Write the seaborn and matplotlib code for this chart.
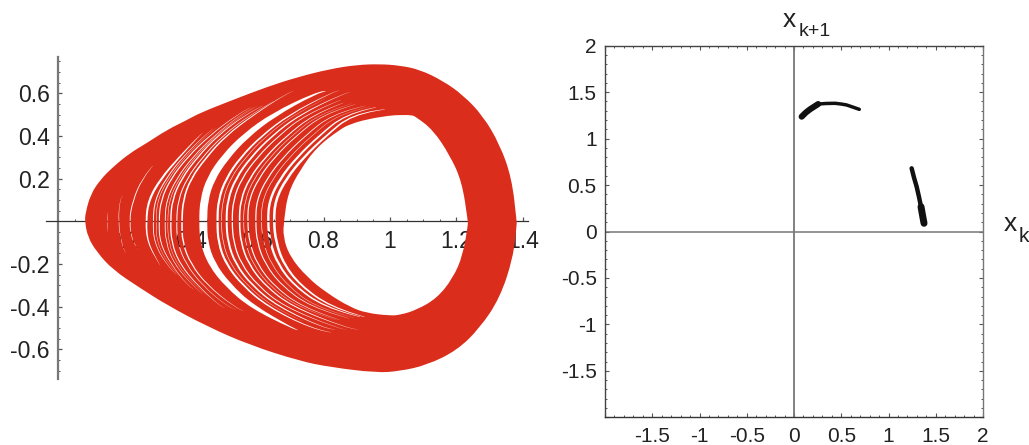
import numpy as np
import matplotlib
matplotlib.use('Agg')
import matplotlib.pyplot as plt
from matplotlib.patches import PathPatch
from matplotlib.path import Path
from matplotlib.ticker import MultipleLocator, FixedLocator, FuncFormatter
import seaborn as sns

# left panel: outline of the attractor band
OUTER_X = [0.081, 0.083, 0.098, 0.127, 0.166, 0.217, 0.268, 0.328, 0.389, 0.428, 0.527, 0.63, 0.72, 0.82,
           0.9, 0.97, 1.03, 1.09, 1.16, 1.22, 1.28, 1.331, 1.367, 1.382, 1.382, 1.371, 1.331, 1.271, 1.202,
           1.111, 1.03, 0.96, 0.819, 0.729, 0.578, 0.45, 0.328, 0.247, 0.166, 0.117, 0.09]
OUTER_Y = [0.0, 0.039, 0.125, 0.194, 0.255, 0.32, 0.367, 0.428, 0.475, 0.508, 0.569, 0.63, 0.675, 0.714,
           0.733, 0.737, 0.73, 0.711, 0.658, 0.592, 0.495, 0.36, 0.203, 0.0, -0.017, -0.172, -0.36, -0.50,
           -0.605, -0.674, -0.702, -0.71, -0.683, -0.655, -0.58, -0.493, -0.392, -0.312, -0.228, -0.144,
           -0.074]
HOLE_X = [0.681, 0.693, 0.729, 0.78, 0.849, 0.88, 0.93, 1.0, 1.03, 1.065, 1.078, 1.13, 1.18, 1.217, 1.235,
          1.235, 1.22, 1.19, 1.142, 1.081, 1.03, 1.0, 0.93, 0.88, 0.81, 0.75, 0.699, 0.678]
HOLE_Y = [0.006, 0.133, 0.24, 0.348, 0.43, 0.455, 0.478, 0.496, 0.498, 0.498, 0.49, 0.428, 0.311, 0.186, 0.0,
          -0.017, -0.158, -0.266, -0.36, -0.415, -0.439, -0.442, -0.43, -0.402, -0.336, -0.261, -0.166, -0.073]

# white gaps in the band: x at each y level, plus where each gap starts and stops
GAP_LEVELS = [0.6, 0.5, 0.4, 0.3, 0.2, 0.1, 0.0, -0.1, -0.2, -0.3, -0.4, -0.5]
n = np.nan
GAP_ROWS = [
    [n, n, n, n, n, n, 0.148, n, n, n, n, n],
    [n, n, n, n, n, 0.186, 0.182, 0.19, n, n, n, n],
    [n, n, n, n, 0.254, 0.226, 0.214, 0.225, n, n, n, n],
    [n, n, 0.425, 0.365, 0.31, 0.273, 0.265, 0.27, 0.305, n, n, n],
    [n, n, 0.44, 0.375, 0.325, 0.292, 0.286, 0.29, 0.325, n, n, n],
    [n, n, 0.447, 0.382, 0.332, 0.30, 0.295, 0.298, 0.332, n, n, n],
    [n, 0.54, 0.455, 0.39, 0.34, 0.31, 0.304, 0.307, 0.34, 0.39, n, n],
    [n, 0.55, 0.47, 0.405, 0.357, 0.327, 0.322, 0.325, 0.35, 0.405, n, n],
    [n, 0.558, 0.475, 0.412, 0.365, 0.335, 0.33, 0.333, 0.358, 0.412, n, n],
    [n, 0.565, 0.48, 0.42, 0.372, 0.344, 0.339, 0.342, 0.367, 0.42, 0.49, n],
    [n, 0.58, 0.495, 0.435, 0.388, 0.362, 0.357, 0.36, 0.385, 0.435, 0.51, n],
    [0.69, 0.59, 0.505, 0.447, 0.40, 0.377, 0.373, 0.375, 0.40, 0.45, 0.53, n],
    [0.775, 0.65, 0.564, 0.503, 0.46, 0.44, 0.437, 0.44, 0.463, 0.512, 0.585, 0.705],
    [0.82, 0.697, 0.613, 0.55, 0.506, 0.483, 0.48, 0.483, 0.506, 0.556, 0.632, 0.76],
    [n, 0.711, 0.627, 0.565, 0.519, 0.496, 0.492, 0.496, 0.519, 0.569, 0.646, n],
    [0.862, 0.728, 0.644, 0.581, 0.535, 0.511, 0.507, 0.512, 0.535, 0.584, 0.663, 0.80],
    [n, 0.746, 0.664, 0.60, 0.553, 0.528, 0.524, 0.529, 0.552, 0.601, 0.681, 0.84],
    [n, 0.77, 0.688, 0.624, 0.576, 0.55, 0.546, 0.551, 0.574, 0.623, 0.705, 0.87],
    [n, 0.784, 0.703, 0.638, 0.59, 0.563, 0.558, 0.564, 0.587, 0.636, 0.719, n],
    [n, 0.798, 0.717, 0.652, 0.604, 0.575, 0.571, 0.577, 0.60, 0.649, 0.733, n],
    [n, 0.824, 0.744, 0.678, 0.629, 0.599, 0.595, 0.60, 0.624, 0.673, 0.759, n],
    [n, 0.843, 0.763, 0.697, 0.647, 0.616, 0.612, 0.618, 0.642, 0.691, 0.773, n],
    [n, 0.865, 0.786, 0.72, 0.669, 0.637, 0.632, 0.639, 0.662, 0.711, 0.80, n],
    [n, 0.885, 0.807, 0.74, 0.688, 0.655, 0.65, 0.657, 0.68, 0.73, 0.82, n],
]
GAP_TOP = [(0.152, 0.06), (0.20, 0.13), (0.30, 0.287), (0.44, 0.42), (0.48, 0.45), (0.49, 0.455), (0.60, 0.55),
           (0.61, 0.55), (0.62, 0.56), (0.64, 0.56), (0.68, 0.59), (0.72, 0.615), (0.82, 0.615), (0.86, 0.62),
           (0.85, 0.61), (0.889, 0.606), (0.90, 0.60), (0.90, 0.58), (0.93, 0.575), (0.94, 0.57), (0.97, 0.56),
           (0.985, 0.555), (1.0, 0.55), (1.03, 0.536)]
GAP_BOTTOM = [(0.15, -0.07), (0.21, -0.17), (0.25, -0.14), (0.31, -0.21), (0.37, -0.27), (0.38, -0.28),
              (0.42, -0.33), (0.45, -0.36), (0.47, -0.37), (0.51, -0.41), (0.55, -0.42), (0.572, -0.43),
              (0.73, -0.514), (0.85, -0.53), (0.78, -0.5), (0.85, -0.51), (0.88, -0.51), (0.92, -0.51),
              (0.89, -0.49), (0.90, -0.49), (0.93, -0.48), (0.945, -0.475), (0.96, -0.47), (0.97, -0.47)]
GAP_WIDTHS = [0.5, 0.6, 1.0, 2.2, 1.0, 0.5, 1.2, 0.9, 0.5, 1.4, 1.0, 1.6, 8.0, 2.2, 0.6, 2.0, 1.3, 1.6, 0.6,
              1.2, 1.2, 0.6, 2.4, 2.6]

LEFT_XTICKS = [0.2, 0.4, 0.6, 0.8, 1, 1.2, 1.4]
LEFT_YTICKS = [-0.6, -0.4, -0.2, 0.2, 0.4, 0.6]

# right panel: the two strands of the return map
ARC_X = [0.081, 0.125, 0.169, 0.256, 0.34, 0.434, 0.5, 0.557, 0.62, 0.691]
ARC_Y = [1.236, 1.28, 1.315, 1.372, 1.378, 1.38, 1.372, 1.362, 1.34, 1.315]
DROP_X = [1.245, 1.27, 1.298, 1.322, 1.344, 1.36, 1.376]
DROP_Y = [0.68, 0.58, 0.482, 0.375, 0.267, 0.175, 0.088]
RIGHT_TICKS = [-1.5, -1, -0.5, 0, 0.5, 1, 1.5, 2]

RED = '#DB2D1B'
INK = '#222222'
GREY = '#777777'
W, H = 1029, 445

# pixels per data unit on the left panel
SX, SY = 332.0, 213.3


def fmt(v, pos=None):
    return '%g' % v


def smooth_closed(pts):
    pts = np.asarray(pts)
    mids = (pts + np.roll(pts, -1, axis=0)) / 2
    verts = [mids[-1]]
    codes = [Path.MOVETO]
    for p, m in zip(pts, mids):
        verts += [p, m]
        codes += [Path.CURVE3, Path.CURVE3]
    return np.array(verts), codes


def orient(pts, ccw=True):
    pts = np.asarray(pts)
    area = np.sum(pts[:, 0] * np.roll(pts[:, 1], -1) - np.roll(pts[:, 0], -1) * pts[:, 1])
    return pts if (area > 0) == ccw else pts[::-1]


def ribbon(centre, width):
    # thin closed outline around a centre line, width in pixels, pinched at both ends
    px = np.asarray(centre) * [SX, SY]
    d = np.gradient(px, axis=0)
    d /= np.linalg.norm(d, axis=1, keepdims=True)
    normal = np.column_stack([-d[:, 1], d[:, 0]])
    s = np.r_[0, np.cumsum(np.linalg.norm(np.diff(px, axis=0), axis=1))]
    end_dist = np.minimum(s, s[-1] - s)
    taper = np.clip(end_dist / (0.4 * s[-1]), 0, 1) ** 0.7
    off = normal * (width * taper / 2)[:, None]
    outline = np.vstack([px + off, (px - off)[::-1][1:-1]])
    return outline / [SX, SY]


sns.set_style('white')
plt.rcParams['font.family'] = ['Liberation Sans', 'DejaVu Sans']
plt.rcParams['text.color'] = INK

fig = plt.figure(figsize=(W / 100, H / 100), dpi=100)

# left panel
ax = fig.add_axes([46 / W, 1 - 379 / H, (528 - 46) / W, (379 - 57) / H])
ax.set_xlim(-0.036, 1.416)
ax.set_ylim(-0.739, 0.77)
ax.set_facecolor('none')
ax.set_axisbelow(True)
for side in ['top', 'right']:
    ax.spines[side].set_visible(False)
ax.spines['left'].set_position(('data', 0))
ax.spines['left'].set_color(GREY)
ax.spines['left'].set_linewidth(1.6)
ax.spines['bottom'].set_position(('data', 0))
ax.spines['bottom'].set_color('#333333')
ax.spines['bottom'].set_linewidth(0.9)
ax.xaxis.set_major_locator(FixedLocator(LEFT_XTICKS))
ax.yaxis.set_major_locator(FixedLocator(LEFT_YTICKS))
ax.xaxis.set_minor_locator(MultipleLocator(0.05))
ax.yaxis.set_minor_locator(MultipleLocator(0.05))
ax.xaxis.set_major_formatter(FuncFormatter(fmt))
ax.yaxis.set_major_formatter(FuncFormatter(fmt))
ax.tick_params(axis='both', which='major', direction='in', length=3.2, width=0.9, color='#555555',
               labelsize=16.6, labelcolor=INK, bottom=True, left=True)
ax.tick_params(axis='both', which='minor', direction='in', length=1.7, width=0.7, color='#555555',
               bottom=True, left=True)
ax.tick_params(axis='x', which='major', pad=6)
ax.tick_params(axis='y', which='major', pad=6)

all_verts, all_codes = [], []
for pts, ccw in [(np.column_stack([OUTER_X, OUTER_Y]), True), (np.column_stack([HOLE_X, HOLE_Y]), False)]:
    v, c = smooth_closed(orient(pts, ccw))
    all_verts.append(v)
    all_codes += c
for row, top, bottom, width in zip(GAP_ROWS, GAP_TOP, GAP_BOTTOM, GAP_WIDTHS):
    centre = [top] + [(x, y) for x, y in zip(row, GAP_LEVELS) if not np.isnan(x)] + [bottom]
    v, c = smooth_closed(orient(ribbon(centre, width), False))
    all_verts.append(v)
    all_codes += c
band = PathPatch(Path(np.vstack(all_verts), all_codes), facecolor=RED, edgecolor='none', zorder=3)
ax.add_patch(band)

# right panel
ax2 = fig.add_axes([605 / W, 1 - 417.3 / H, (983 - 605) / W, (417.3 - 45.7) / H])
ax2.set_xlim(-2, 2)
ax2.set_ylim(-2, 2)
ax2.set_facecolor('none')
ax2.axhline(0, color=GREY, lw=1.1, zorder=1)
ax2.axvline(0, color=GREY, lw=1.3, zorder=1)
for side, col in [('top', '#444444'), ('left', '#444444'), ('bottom', '#333333'), ('right', GREY)]:
    ax2.spines[side].set_visible(True)
    ax2.spines[side].set_color(col)
    ax2.spines[side].set_linewidth(1.0)
ax2.xaxis.set_major_locator(FixedLocator(RIGHT_TICKS + [-2]))
ax2.yaxis.set_major_locator(FixedLocator(RIGHT_TICKS + [-2]))
ax2.xaxis.set_minor_locator(MultipleLocator(0.1))
ax2.yaxis.set_minor_locator(MultipleLocator(0.1))
ax2.xaxis.set_major_formatter(FuncFormatter(lambda v, p: '' if v == -2 else fmt(v)))
ax2.yaxis.set_major_formatter(FuncFormatter(lambda v, p: '' if v == -2 else fmt(v)))
ax2.tick_params(axis='both', which='major', direction='in', length=3, width=0.8, color='#555555',
                labelsize=15, labelcolor=INK, top=True, right=True, bottom=True, left=True)
ax2.tick_params(axis='both', which='minor', direction='in', length=1.5, width=0.7, color='#555555',
                top=True, right=True, bottom=True, left=True)
ax2.tick_params(axis='x', which='major', pad=7)
ax2.tick_params(axis='y', which='major', pad=6)

line_kw = dict(sort=False, estimator=None, color='#111111', solid_capstyle='round', legend=False, ax=ax2)
sns.lineplot(x=ARC_X[3:], y=ARC_Y[3:], lw=2.5, **line_kw)
sns.lineplot(x=ARC_X[:4], y=ARC_Y[:4], lw=4.4, **line_kw)
sns.lineplot(x=DROP_X, y=DROP_Y, lw=3.2, **line_kw)
sns.lineplot(x=DROP_X[4:], y=DROP_Y[4:], lw=5.0, **line_kw)
ax2.set_xlabel('')
ax2.set_ylabel('')

# axis names of the return map
fig.text(783 / W, 1 - 27 / H, 'x', fontsize=19, color=INK, va='baseline', ha='left')
fig.text(798.5 / W, 1 - 36 / H, 'k+1', fontsize=14, color=INK, va='baseline', ha='left')
fig.text(1004 / W, 1 - 231 / H, 'x', fontsize=19, color=INK, va='baseline', ha='left')
fig.text(1019 / W, 1 - 242 / H, 'k', fontsize=15, color=INK, va='baseline', ha='left')

fig.savefig('out.png', dpi=100, facecolor='white')
